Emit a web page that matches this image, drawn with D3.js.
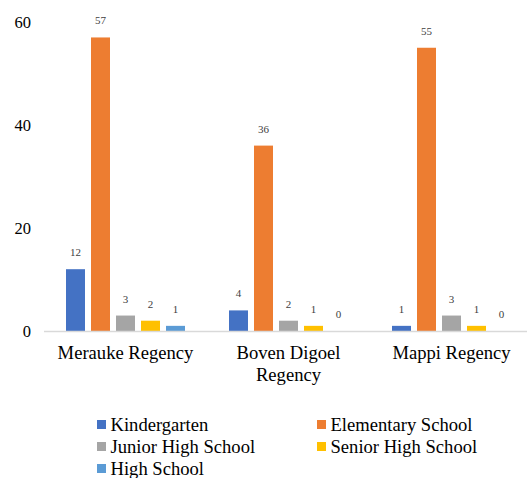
<!DOCTYPE html>
<html>
<head>
<meta charset="utf-8">
<script src="https://cdn.jsdelivr.net/npm/d3@7"></script>
<style>
  html, body { margin: 0; padding: 0; background: #fff; }
  svg { display: block; }
  svg text { font-family: "Liberation Serif", "Times New Roman", Times, serif !important; }
</style>
</head>
<body>
<svg id="chart" width="527" height="478"></svg>
<script>
// Schools per regency, by level
const regencies = ["Merauke Regency", "Boven Digoel Regency", "Mappi Regency"];
const levels = ["Kindergarten", "Elementary School", "Junior High School", "Senior High School", "High School"];
const kindergarten = [12, 4, 1];
const elementary = [57, 36, 55];
const juniorHigh = [3, 2, 3];
const seniorHigh = [2, 1, 1];
const highSchool = [1, 0, 0];
const yTicks = [0, 20, 40, 60];
const colors = ["#4472C4", "#ED7D31", "#A5A5A5", "#FFC000", "#5B9BD5"];

const seriesValues = [kindergarten, elementary, juniorHigh, seniorHigh, highSchool];

const svg = d3.select("#chart");

const x0 = d3.scaleBand().domain(regencies).range([44, 533]).padding(0);
const x1 = d3.scaleBand().domain(levels).range([0, x0.bandwidth()])
  .paddingInner(0.24).paddingOuter(0.88);
const y = d3.scaleLinear().domain([0, 60]).range([331, 22]);
const color = d3.scaleOrdinal().domain(levels).range(colors);

// Y axis: labels only
const yAxis = svg.append("g")
  .attr("transform", "translate(33,0)")
  .call(d3.axisLeft(y).tickValues(yTicks).tickSize(0).tickPadding(2));
yAxis.select(".domain").remove();
yAxis.selectAll("text")
  .attr("font-size", 16.5)
  .attr("fill", "#000");

// Bars
const groups = svg.append("g").selectAll("g")
  .data(regencies)
  .join("g")
  .attr("transform", d => `translate(${x0(d)},0)`);

groups.each(function(reg, ri) {
  const g = d3.select(this);
  const rows = levels.map((lv, li) => ({ level: lv, value: seriesValues[li][ri] }));
  g.selectAll("rect")
    .data(rows)
    .join("rect")
    .attr("x", d => x1(d.level))
    .attr("y", d => y(d.value))
    .attr("width", x1.bandwidth())
    .attr("height", d => y(0) - y(d.value))
    .attr("fill", d => color(d.level));
  g.selectAll("text.val")
    .data(rows)
    .join("text")
    .attr("class", "val")
    .attr("x", d => x1(d.level) + x1.bandwidth() / 2)
    .attr("y", d => y(d.value) - 13)
    .attr("text-anchor", "middle")
    .attr("font-size", 11)
    .attr("fill", "#404040")
    .text(d => d.value);
});

// X axis baseline and category labels
const xAxis = svg.append("g")
  .attr("transform", `translate(0,${y(0)})`)
  .call(d3.axisBottom(x0).tickSize(0).tickPadding(0));
xAxis.select(".domain").remove();
svg.append("line")
  .attr("x1", 44).attr("x2", 527)
  .attr("y1", y(0) + 0.5).attr("y2", y(0) + 0.5)
  .attr("stroke", "#D9D9D9").attr("stroke-width", 1.6);

xAxis.selectAll("text")
  .attr("font-size", 18.6)
  .attr("fill", "#000")
  .attr("dy", null)
  .each(function(label) {
    const t = d3.select(this);
    const words = label.split(" ");
    t.text(null);
    let line = [];
    let lineNo = 0;
    let tspan = t.append("tspan").attr("x", 0).attr("y", 28);
    for (const w of words) {
      line.push(w);
      tspan.text(line.join(" "));
      if (tspan.node().getComputedTextLength() > 150 && line.length > 1) {
        line.pop();
        tspan.text(line.join(" "));
        line = [w];
        lineNo++;
        tspan = t.append("tspan").attr("x", 0).attr("y", 28 + lineNo * 22).text(w);
      }
    }
  });

// Legend
const legendItems = levels.map((lv, i) => ({
  level: lv,
  col: i % 2,
  row: Math.floor(i / 2)
}));
const legend = svg.append("g").selectAll("g")
  .data(legendItems)
  .join("g")
  .attr("transform", d => `translate(${d.col === 0 ? 97 : 317},${420 + d.row * 22})`);
legend.append("rect")
  .attr("width", 9).attr("height", 9)
  .attr("fill", d => color(d.level));
legend.append("text")
  .attr("x", 13.5).attr("y", 10.5)
  .attr("font-size", 18.6)
  .attr("fill", "#000")
  .text(d => d.level);
</script>
</body>
</html>
